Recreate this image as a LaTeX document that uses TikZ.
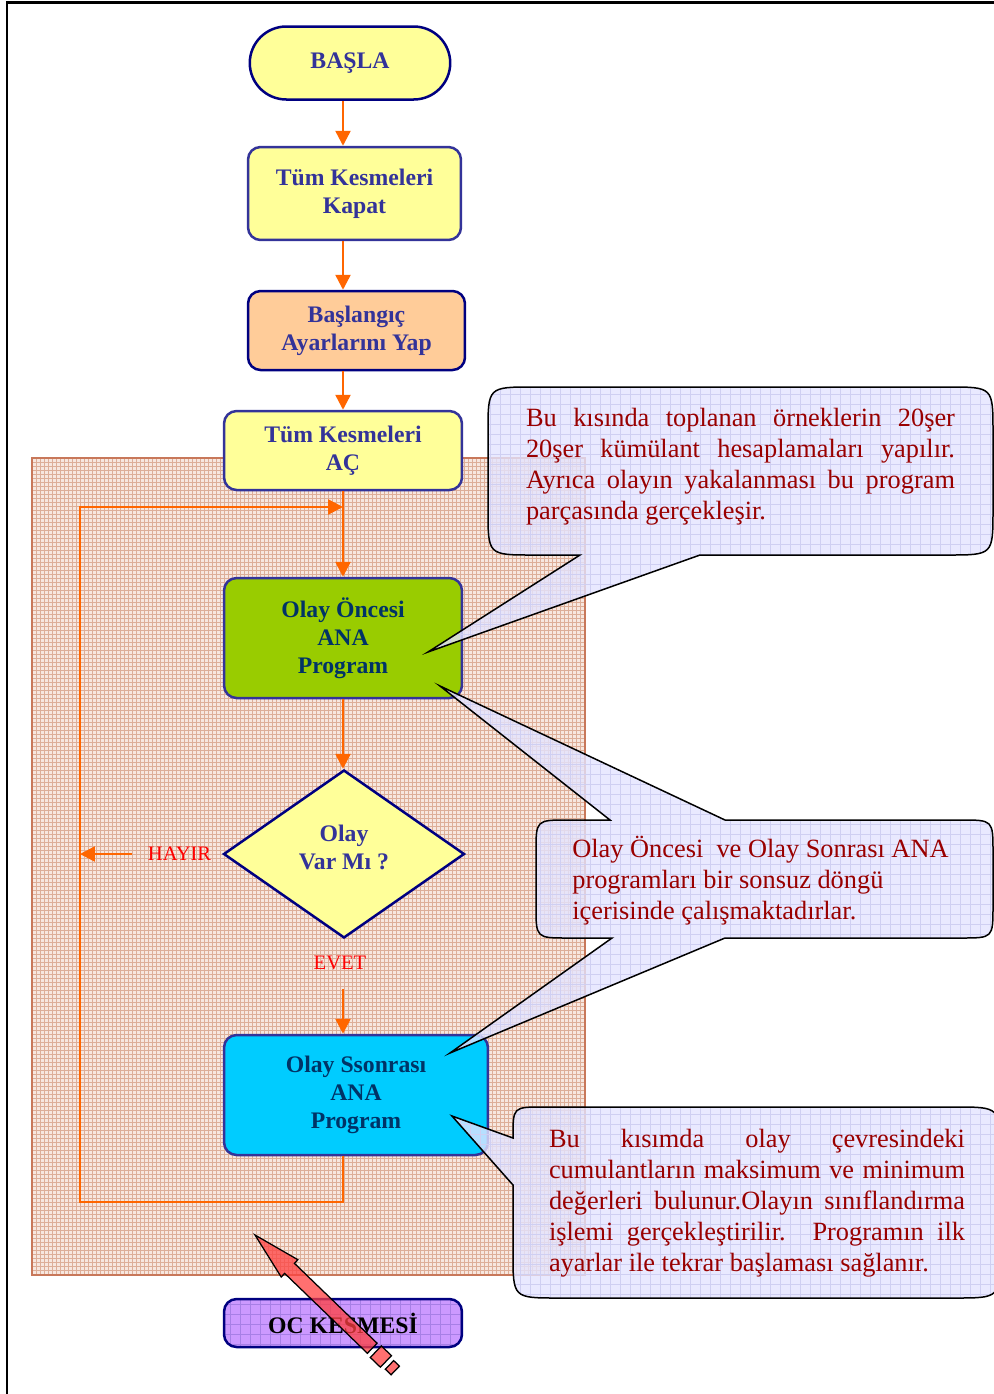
\documentclass[tikz,border=0pt]{standalone}
\usepackage{fontspec}
\setmainfont{Liberation Serif}
\usetikzlibrary{shapes.geometric,shapes.misc,arrows.meta,positioning,patterns.meta}

\definecolor{sarikutu}{HTML}{FFFF99}
\definecolor{turuncukutu}{HTML}{FFCC99}
\definecolor{yesilkutu}{HTML}{99CC00}
\definecolor{mavikutu}{HTML}{00CCFF}
\definecolor{morkutu}{HTML}{CC99FF}
\definecolor{morizgara}{HTML}{A77FE6}
\definecolor{lacivert}{HTML}{000080}
\definecolor{kenarmavi}{HTML}{333399}
\definecolor{yazimavi}{HTML}{333399}
\definecolor{koyuyazi}{HTML}{003366}
\definecolor{akis}{HTML}{FF6600}
\definecolor{balonzemin}{HTML}{E4E4FF}
\definecolor{balonizgara}{HTML}{CFCFF2}
\definecolor{balonyazi}{HTML}{990000}
\definecolor{tarama}{HTML}{DDAE98}
\definecolor{taramazemin}{HTML}{F7E7DF}
\definecolor{taramakenar}{HTML}{C8785A}
\definecolor{okkirmizi}{HTML}{FF4040}

\newcommand{\kutuyazi}{\fontsize{13.5}{15.9}\selectfont\bfseries}
\newcommand{\balonyazisi}{\fontsize{15}{17.6}\selectfont}

\tikzset{
  kutu/.style={rectangle, rounded corners=0.25cm, draw=kenarmavi, line width=0.05cm,
    align=center, font=\kutuyazi, text=yazimavi, inner sep=1pt},
  akisok/.style={draw=akis, line width=0.05cm, -{Triangle[width=0.3cm,length=0.3cm]}},
  etiket/.style={text=red, font=\fontsize{11.7}{14}\selectfont, inner sep=1pt},
  balon/.style={draw=black, line width=0.03cm, preaction={fill=balonzemin, fill opacity=0.8},
    pattern={Hatch[distance=0.2cm, angle=0, line width=0.3pt]}, pattern color=balonizgara},
  balonmetin/.style={text=balonyazi, font=\balonyazisi, inner sep=0pt},
  okstil/.style={draw=black, line width=0.025cm, fill=okkirmizi, fill opacity=0.75}
}

\begin{document}
\begin{tikzpicture}[x=0.02cm, y=-0.02cm]
\useasboundingbox (0,0) rectangle (994,1394);
\draw[line width=0.06cm] (7,1394) -- (7,2) -- (994,2);
\draw[taramakenar, line width=0.03cm, preaction={fill=taramazemin},
  pattern={Hatch[distance=0.08cm, angle=0, line width=0.25pt]}, pattern color=tarama]
  (32,458) rectangle (585,1275);

\node[kutu, shape=rounded rectangle, sharp corners, draw=lacivert, fill=sarikutu,
  minimum width=4.08cm, minimum height=1.46cm] (basla) at (350,63) {BAŞLA};
\node[kutu, fill=sarikutu, minimum width=4.26cm, minimum height=1.86cm] (kapat) at (354.5,193.5) {Tüm Kesmeleri\\Kapat};
\node[kutu, draw=lacivert, fill=turuncukutu, minimum width=4.34cm, minimum height=1.58cm] (ayar) at (356.5,330.5) {Başlangıç\\Ayarlarını Yap};
\node[kutu, fill=sarikutu, minimum width=4.76cm, minimum height=1.58cm] (ac) at (343,450.5) {Tüm Kesmeleri\\AÇ};
\node[kutu, fill=yesilkutu, text=koyuyazi, minimum width=4.76cm, minimum height=2.4cm] (once) at (343,638) {Olay Öncesi\\ANA\\Program};
\node[kutu, shape=diamond, sharp corners, draw=lacivert, fill=sarikutu, inner sep=0pt,
  minimum width=4.82cm, minimum height=3.36cm] (karar) at (344,854) {};
\node[kutu, draw=none, yshift=0.14cm] (kararyazi) at (karar) {Olay\\Var Mı ?};
\node[kutu, fill=mavikutu, text=koyuyazi, minimum width=5.28cm, minimum height=2.4cm] (sonra) at (356,1095) {Olay Ssonrası\\ANA\\Program};
\node[kutu, draw=lacivert, text=black, minimum width=4.76cm, minimum height=0.96cm,
  preaction={fill=morkutu}, pattern={Hatch[distance=0.2cm, angle=0, line width=0.3pt]},
  pattern color=morizgara] (oc) at (343,1323) {OC KESMESİ};

\node[etiket, left=0.18cm of karar] (hayir) {HAYIR};
\node[etiket, below=0.3cm of karar, xshift=-0.08cm] (evet) {EVET};
\coordinate[below=0.34cm of evet.south] (evetalti);
\coordinate (donusalt) at (80,1202);
\coordinate (donusust) at (80,507);

\draw[akisok] (basla.south -| ac) -- (kapat.north -| ac);
\draw[akisok] (kapat.south -| ac) -- (ayar.north -| ac);
\draw[akisok] (ayar.south -| ac) -- (ac.north);
\draw[akisok] (ac.south) -- (once.north);
\draw[akisok] (once.south) -- (karar.north -| once);
\draw[akisok] (evetalti -| once) -- (sonra.north -| once);
\draw[akisok] (sonra.south -| once) |- (donusalt) -- (donusust) -- (donusust -| once);
\draw[akisok] ([xshift=-0.28cm]hayir.west) -- (hayir.west -| donusalt);

\draw[balon] (700,555) -- (428,652) -- (580,555) -- (533,555) .. controls (488,555) .. (488,510)
  -- (488,432) .. controls (488,387) .. (533,387) -- (948,387) .. controls (993,387) .. (993,432)
  -- (993,510) .. controls (993,555) .. (948,555) -- cycle;
\node[balonmetin, text width=8.58cm, align=justify] (not1) at (740.5,467)
  {Bu kısında toplanan örneklerin 20şer\linebreak 20şer kümülant hesaplamaları yapılır.\linebreak
   Ayrıca olayın yakalanması bu program\linebreak parçasında gerçekleşir.};

\draw[balon] (725,820) -- (440,686) -- (610,820) -- (568,820) .. controls (536,820) .. (536,852)
  -- (536,906) .. controls (536,938) .. (568,938) -- (612,938) -- (450,1053) -- (725,938)
  -- (961,938) .. controls (993,938) .. (993,906) -- (993,852) .. controls (993,820) .. (961,820) -- cycle;
\node[balonmetin, anchor=west, align=left] (not2) at (572,881)
  {Olay Öncesi\ \ ve Olay Sonrası ANA\\programları bir sonsuz döngü\\içerisinde çalışmaktadırlar.};

\draw[balon] (513,1138) -- (452,1116) -- (513,1185) -- (513,1253) .. controls (513,1298) .. (558,1298)
  -- (955,1298) .. controls (1000,1298) .. (1000,1253) -- (1000,1152) .. controls (1000,1107) .. (955,1107)
  -- (543,1107) .. controls (513,1107) .. (513,1137) -- cycle;
\node[balonmetin, text width=8.32cm, align=justify] (not3) at (757,1203.5)
  {Bu kısımda olay çevresindeki\linebreak cumulantların maksimum ve minimum\linebreak
   değerleri bulunur.Olayın sınıflandırma\linebreak işlemi gerçekleştirilir.\ \ Programın ilk\linebreak
   ayarlar ile tekrar başlaması sağlanır.};

\begin{scope}[shift={(255,1235)}, rotate=-44]
  \draw[okstil] (0,0) -- (48,-12) -- (48,-7) -- (163,-7) -- (163,7) -- (48,7) -- (48,12) -- cycle;
  \draw[okstil] (168,-8) rectangle (182,8);
  \draw[okstil] (187,-6) rectangle (195,6);
\end{scope}
\end{tikzpicture}
\end{document}
